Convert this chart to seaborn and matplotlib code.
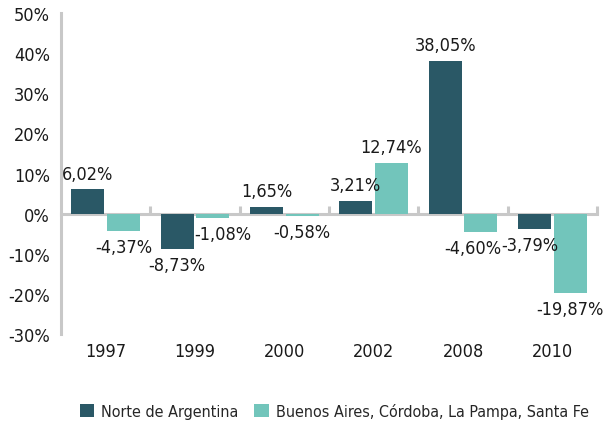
import matplotlib
matplotlib.use('Agg')
import matplotlib.pyplot as plt
from matplotlib import font_manager
from matplotlib.ticker import FuncFormatter
import seaborn as sns
import pandas as pd

# datos
anios = ['1997', '1999', '2000', '2002', '2008', '2010']
norte = [6.02, -8.73, 1.65, 3.21, 38.05, -3.79]
pampeana = [-4.37, -1.08, -0.58, 12.74, -4.60, -19.87]
regiones = ['Norte de Argentina', 'Buenos Aires, Córdoba, La Pampa, Santa Fe']
colores = ['#2a5866', '#72c5bb']

df = pd.DataFrame({
    'anio': anios * 2,
    'region': [regiones[0]] * len(anios) + [regiones[1]] * len(anios),
    'valor': norte + pampeana,
})

sns.set_style('white')
# fuente estrecha si existe
nombres = {f.name for f in font_manager.fontManager.ttflist}
estrechas = [n for n in ['Liberation Sans Narrow', 'DejaVu Sans Condensed'] if n in nombres]
plt.rcParams['font.family'] = estrechas + ['DejaVu Sans']
plt.rcParams['font.stretch'] = 'condensed'
gris = '#c8c8c8'
negro = '#1a1a1a'

fig = plt.figure(figsize=(6.08, 4.27), dpi=100)
ax = fig.add_axes([61 / 608, 92 / 427, 536 / 608, 321 / 427])

sns.barplot(df, x='anio', y='valor', hue='region', palette=colores,
            width=0.8, gap=0.075, ax=ax, saturation=1, linewidth=0)

# pequeños desplazamientos (en puntos) para que las etiquetas no choquen
desplaz = {(1, 1): 7, (1, 4): -6, (0, 5): -3}
for i, (cont, serie) in enumerate(zip(ax.containers, [norte, pampeana])):
    etiquetas = [f'{v:.2f}%'.replace('.', ',') for v in serie]
    textos = ax.bar_label(cont, labels=etiquetas, padding=5, fontsize=13, color=negro)
    for j, t in enumerate(textos):
        if (i, j) in desplaz:
            dx, dy = t.xyann
            t.xyann = (dx + desplaz[(i, j)], dy)

ax.set_xlim(-0.5, 5.5)
ax.set_ylim(-30, 50)
ax.set_yticks(range(-30, 51, 10))
ax.yaxis.set_major_formatter(FuncFormatter(lambda v, p: f'{int(v)}%'))
ax.tick_params(axis='y', direction='in', length=10, width=2.2, color=gris,
               labelsize=13, pad=8, labelcolor=negro)
ax.tick_params(axis='x', length=0, labelsize=13, pad=6, labelcolor=negro)
ax.set_xlabel('')
ax.set_ylabel('')

for s in ['top', 'right', 'bottom']:
    ax.spines[s].set_visible(False)
ax.spines['left'].set_color(gris)
ax.spines['left'].set_linewidth(2.2)

# linea del cero con marcas entre categorias
eje0 = ax.secondary_xaxis(30 / 80)
eje0.set_xticks([0.5, 1.5, 2.5, 3.5, 4.5, 5.5])
eje0.tick_params(direction='in', length=6, width=2.2, color=gris, labelbottom=False)
eje0.spines['bottom'].set_color(gris)
eje0.spines['bottom'].set_linewidth(2.2)

sns.move_legend(ax, 'lower center', bbox_to_anchor=(0.51, -0.31), ncol=2,
                frameon=False, title=None, fontsize=11.5, handlelength=0.9,
                handleheight=0.9, handletextpad=0.45, columnspacing=1.0)

fig.savefig('out.png', dpi=100)
